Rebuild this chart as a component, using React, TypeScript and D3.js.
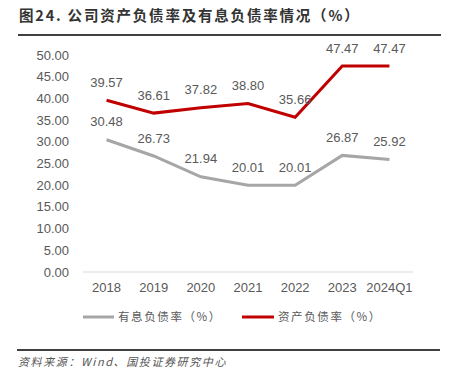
import React from "react";
import * as d3 from "d3";

const categories = ["2018", "2019", "2020", "2021", "2022", "2023", "2024Q1"];
const assetLiability = [39.57, 36.61, 37.82, 38.8, 35.66, 47.47, 47.47];
const interestLiability = [30.48, 26.73, 21.94, 20.01, 20.01, 26.87, 25.92];
const yTicks = [0, 5, 10, 15, 20, 25, 30, 35, 40, 45, 50];
const seriesNames = ["有息负债率（%）", "资产负债率（%）"];
const title = "图24. 公司资产负债率及有息负债率情况（%）";
const source = "资料来源：Wind、国投证券研究中心";

const W = 455;
const H = 382;
const FONT = "Liberation Sans, Arial, Noto Sans CJK SC, sans-serif";
const CJK = "Noto Sans CJK SC, sans-serif";

export default function App() {
  const x = d3.scaleBand<string>().domain(categories).range([83, 413]);
  const y = d3.scaleLinear().domain([0, 50]).range([272, 55]);
  const cx = (c: string) => (x(c) as number) + x.bandwidth() / 2;
  const line = d3
    .line<number>()
    .x((_, i) => cx(categories[i]))
    .y((d) => y(d));
  const gray = "#A6A6A6";
  const red = "#C00000";
  const textColor = "#595959";

  return (
    <svg
      width={W}
      height={H}
      style={{ position: "absolute", left: 0, top: 0, background: "#fff" }}
    >
      <text x={19} y={21} fontFamily={CJK} fontSize={14.5} fontWeight="bold" letterSpacing={1.8} fill="#333">
        {title}
      </text>
      <line x1={18} x2={441} y1={35} y2={35} stroke="#000" strokeWidth={1.3} />

      {yTicks.map((t) => (
        <text
          key={t}
          x={69}
          y={y(t)}
          dy="0.35em"
          textAnchor="end"
          fontFamily={FONT}
          fontSize={13}
          fill={textColor}
        >
          {t.toFixed(2)}
        </text>
      ))}
      <line x1={83} x2={413} y1={y(0)} y2={y(0)} stroke="#D9D9D9" strokeWidth={1} />
      {categories.map((c) => (
        <text
          key={c}
          x={cx(c)}
          y={287}
          dy="0.35em"
          textAnchor="middle"
          fontFamily={FONT}
          fontSize={13}
          fill={textColor}
        >
          {c}
        </text>
      ))}

      <path d={line(interestLiability) || ""} fill="none" stroke={gray} strokeWidth={3} />
      <path d={line(assetLiability) || ""} fill="none" stroke={red} strokeWidth={3} />

      {interestLiability.map((v, i) => (
        <text
          key={"g" + i}
          x={cx(categories[i])}
          y={y(v) - 18}
          dy="0.35em"
          textAnchor="middle"
          fontFamily={FONT}
          fontSize={13}
          fill={textColor}
        >
          {v.toFixed(2)}
        </text>
      ))}
      {assetLiability.map((v, i) => (
        <text
          key={"r" + i}
          x={cx(categories[i])}
          y={y(v) - 18}
          dy="0.35em"
          textAnchor="middle"
          fontFamily={FONT}
          fontSize={13}
          fill={textColor}
        >
          {v.toFixed(2)}
        </text>
      ))}

      <line x1={83} x2={114} y1={317} y2={317} stroke={gray} strokeWidth={3} />
      <text x={118} y={317} dy="0.35em" fontFamily={CJK} fontSize={11.5} letterSpacing={1.6} fill={textColor}>
        {seriesNames[0]}
      </text>
      <line x1={242} x2={274} y1={317} y2={317} stroke={red} strokeWidth={3} />
      <text x={278} y={317} dy="0.35em" fontFamily={CJK} fontSize={11.5} letterSpacing={1.6} fill={textColor}>
        {seriesNames[1]}
      </text>

      <line x1={17} x2={440} y1={350} y2={350} stroke="#000" strokeWidth={1.3} />
      <text
        x={18}
        y={362}
        dy="0.35em"
        fontFamily={CJK}
        fontSize={11}
        fontStyle="italic"
        letterSpacing={1.6}
        fill="#555"
      >
        {source}
      </text>
    </svg>
  );
}
